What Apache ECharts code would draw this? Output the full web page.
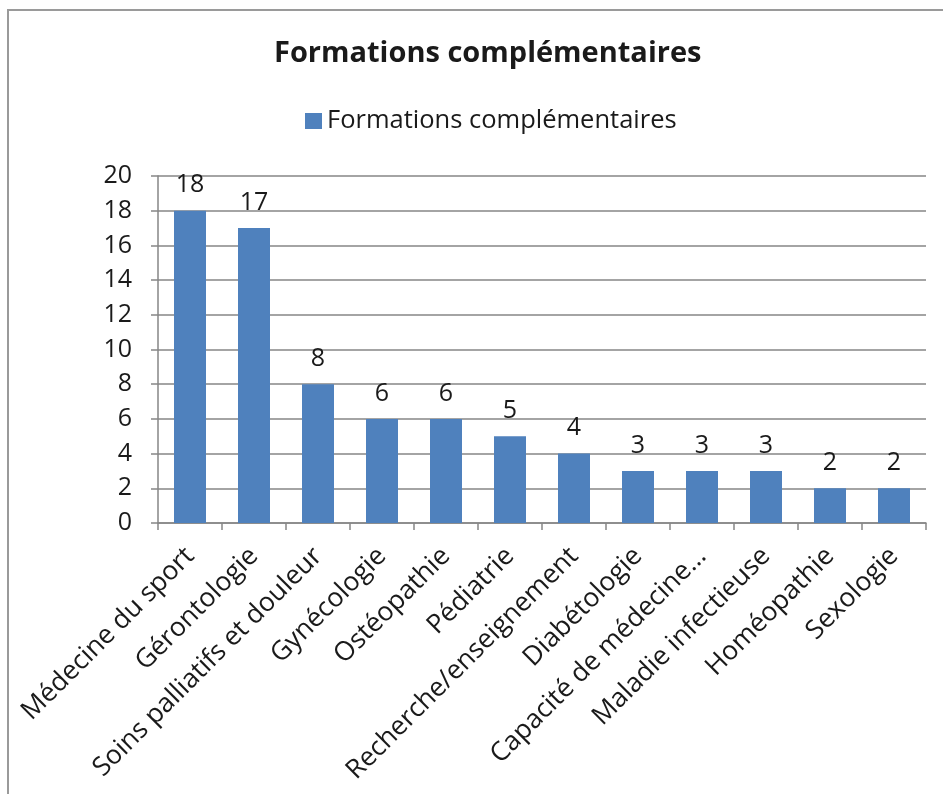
<!DOCTYPE html>
<html><head><meta charset="utf-8">
<script src="https://cdn.jsdelivr.net/npm/echarts@6/dist/echarts.min.js"></script>
<style>html,body{margin:0;padding:0;background:#fff}#c{width:943px;height:794px}</style>
</head><body><div id="c"></div>
<script>
const categories = ["Médecine du sport","Gérontologie","Soins palliatifs et douleur","Gynécologie","Ostéopathie","Pédiatrie","Recherche/enseignement","Diabétologie","Capacité de médecine…","Maladie infectieuse","Homéopathie","Sexologie"];
const values = [18,17,8,6,6,5,4,3,3,3,2,2];
const yTicks = {min:0,max:20,interval:2};
const titleText = "Formations complémentaires";
const seriesName = "Formations complémentaires";

const font = "'Open Sans', sans-serif";
const chart = echarts.init(document.getElementById('c'));
chart.setOption({
  animation:false,
  backgroundColor:'#fff',
  title:{text:titleText,left:269,top:34,textStyle:{fontFamily:font,fontWeight:'bold',fontSize:29,color:'#1a1a1a'}},
  legend:{top:103,left:300,itemWidth:17,itemHeight:16,itemGap:6,icon:'rect',textStyle:{fontFamily:font,fontSize:25.5,color:'#1a1a1a'},data:[seriesName]},
  graphic:[{type:'rect',shape:{x:8,y:10,width:1000,height:900},style:{fill:'none',stroke:'#9a9a9a',lineWidth:2},silent:true}],
  grid:{left:158,right:17,top:176,bottom:271},
  xAxis:{type:'category',data:categories,
    axisLine:{lineStyle:{color:'#868686',width:1.5}},
    axisTick:{show:true,alignWithLabel:false,length:7,lineStyle:{color:'#868686',width:1.5}},
    axisLabel:{rotate:45,interval:0,margin:29,fontFamily:font,fontSize:26.5,color:'#1a1a1a'}},
  yAxis:{type:'value',min:yTicks.min,max:yTicks.max,interval:yTicks.interval,
    axisLine:{show:true,lineStyle:{color:'#868686',width:1.5}},
    axisTick:{show:true,length:7,lineStyle:{color:'#868686',width:1.5}},
    splitLine:{lineStyle:{color:'#868686',width:1.5}},
    axisLabel:{fontFamily:font,fontSize:25,color:'#1a1a1a',margin:26}},
  series:[{name:seriesName,type:'bar',data:values,barWidth:'50%',
    itemStyle:{color:'#4F81BD'},
    label:{show:true,position:'top',distance:13,fontFamily:font,fontSize:25,color:'#1a1a1a'}}]
});
</script></body></html>
